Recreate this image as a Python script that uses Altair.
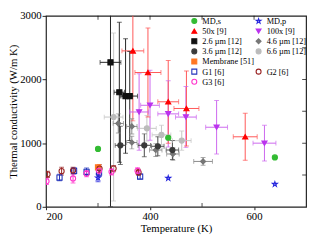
import altair as alt
import pandas as pd

# ---------------- data ----------------
# legend order (column-major, 2 columns x 7 rows; blanks keep the grid)
series_order = ["MD,s", "50x [9]", "2.6 µm [12]", "3.6 µm [12]", "Membrane [51]", "G1 [6]", "G3 [6]",
                "MD,p", "100x [9]", "4.6 µm [12]", "6.6 µm [12]", " ", "G2 [6]", "  "]

mds_T = [300, 435, 640]
mds_k = [910, 1085, 775]
mds_Te = [0, 0, 0]
mds_ke = [0, 0, 0]

mdp_T = [300, 435, 640]
mdp_k = [455, 450, 355]
mdp_Te = [0, 0, 0]
mdp_ke = [60, 0, 0]

x50_T = [367, 396, 435, 470, 583]
x50_k = [2450, 2110, 1650, 1545, 1100]
x50_Te = [21, 25, 20, 24, 23]
x50_ke = [1100, 700, 650, 590, 370]

x100_T = [379, 400, 435, 469, 528, 620]
x100_k = [1490, 1595, 1460, 1410, 1250, 1000]
x100_Te = [18, 18, 20, 20, 21, 22]
x100_ke = [600, 550, 520, 480, 420, 280]

u26_T = [324, 341, 353, 361]
u26_k = [2270, 1800, 1740, 1740]
u26_Te = [20, 10, 10, 15]
u26_ke = [2270, 1100, 900, 700]

u36_T = [343, 389, 415, 443]
u36_k = [966, 966, 951, 892]
u36_Te = [10, 12, 12, 12]
u36_ke = [300, 180, 150, 150]

u46_T = [339, 365, 365, 411, 444, 502]
u46_k = [1310, 1263, 1010, 892, 830, 713]
u46_Te = [10, 10, 10, 12, 12, 18]
u46_ke = [150, 120, 100, 100, 100, 60]

u66_T = [330, 394, 422, 461]
u66_k = [1410, 1233, 1130, 1040]
u66_Te = [18, 18, 18, 18]
u66_ke = [1320, 200, 150, 150]

mem_T = [300]
mem_k = [620]
mem_Te = [0]
mem_ke = [0]

g1_T = [226, 254, 278, 302, 381]
g1_k = [460, 565, 550, 535, 475]
g1_Te = [0, 0, 0, 0, 0]
g1_ke = [50, 50, 60, 60, 40]

g2_T = [203, 230, 252, 303, 330, 378]
g2_k = [510, 560, 570, 600, 600, 540]
g2_Te = [0, 0, 0, 0, 0, 0]
g2_ke = [50, 60, 50, 60, 50, 50]

g3_T = [201, 252, 278, 302, 326, 376]
g3_k = [400, 445, 520, 565, 550, 565]
g3_Te = [0, 0, 0, 0, 0, 0]
g3_ke = [50, 70, 50, 70, 50, 50]

star = "M0,-1L0.2245,-0.309L0.951,-0.309L0.363,0.118L0.588,0.809L0,0.382L-0.588,0.809L-0.363,0.118L-0.951,-0.309L-0.2245,-0.309Z"
# name: (stroke colour, fill colour, error-bar colour, shape)
styles = {
    "MD,s": ("#33bb33", "#33bb33", "#33bb33", "circle"),
    "MD,p": ("#2222dd", "transparent", "#2222dd", star),
    "50x [9]": ("#ff0000", "#ff0000", "#ff5555", "triangle-up"),
    "100x [9]": ("#bb33ee", "#bb33ee", "#cc66ee", "triangle-down"),
    "2.6 µm [12]": ("#111111", "#111111", "#222222", "square"),
    "4.6 µm [12]": ("#777777", "#777777", "#888888", "diamond"),
    "3.6 µm [12]": ("#3a3a3a", "#3a3a3a", "#444444", "circle"),
    "6.6 µm [12]": ("#bbbbbb", "#bbbbbb", "#c4c4c4", "circle"),
    "Membrane [51]": ("#ff7722", "#ff7722", "#ff7722", "square"),
    " ": ("transparent", "transparent", "transparent", "circle"),
    "  ": ("transparent", "transparent", "transparent", "circle"),
    "G1 [6]": ("#2233bb", "transparent", "#2233bb", "square"),
    "G2 [6]": ("#992222", "transparent", "#992222", "circle"),
    "G3 [6]": ("#ff33cc", "transparent", "#ff33cc", "circle"),
}
point_colors = [styles[s][0] for s in series_order]
fill_colors = [styles[s][1] for s in series_order]
shapes = [styles[s][3] for s in series_order]

x_ticks_top = [300, 400, 500, 600]
x_ticks_minor = [300, 500]
y_ticks_right = [500, 1000, 1500, 2000, 2500]

# ---------------- table ----------------
rows = []
def add(name, T, k, Te, ke):
    for a, b, c, d in zip(T, k, Te, ke):
        rows.append(dict(series=name, T=a, k=b, Te=c, ke=d, bc=styles[name][2]))

add("MD,s", mds_T, mds_k, mds_Te, mds_ke)
add("MD,p", mdp_T, mdp_k, mdp_Te, mdp_ke)
add("Membrane [51]", mem_T, mem_k, mem_Te, mem_ke)
add("G1 [6]", g1_T, g1_k, g1_Te, g1_ke)
add("G2 [6]", g2_T, g2_k, g2_Te, g2_ke)
add("G3 [6]", g3_T, g3_k, g3_Te, g3_ke)
add("6.6 µm [12]", u66_T, u66_k, u66_Te, u66_ke)
add("4.6 µm [12]", u46_T, u46_k, u46_Te, u46_ke)
add("3.6 µm [12]", u36_T, u36_k, u36_Te, u36_ke)
add("2.6 µm [12]", u26_T, u26_k, u26_Te, u26_ke)
add("100x [9]", x100_T, x100_k, x100_Te, x100_ke)
add("50x [9]", x50_T, x50_k, x50_Te, x50_ke)
df = pd.DataFrame(rows)
df["order"] = range(len(df))

W, H = 267, 196
FONT = "Liberation Serif"

xs = alt.Scale(domain=[200, 700], nice=False)
ys = alt.Scale(domain=[0, 3000], nice=False)

base = alt.Chart(df).transform_calculate(
    klo="datum.k - datum.ke", khi="datum.k + datum.ke",
    Tlo="datum.T - datum.Te", Thi="datum.T + datum.Te")

bar_color = alt.Color("bc:N", scale=None, legend=None)

xenc = alt.X("T:Q", scale=xs, title="Temperature (K)",
             axis=alt.Axis(values=[200, 400, 600], format="d", tickSize=3, labelPadding=1, titlePadding=1,
                           grid=False, domain=False))
yenc = alt.Y("k:Q", scale=ys, title="Thermal conductivity (W/m K)",
             axis=alt.Axis(values=[0, 1000, 2000, 3000], format="d", tickSize=4, labelPadding=1, titlePadding=1,
                           grid=False, domain=False))

vbar = base.transform_filter("datum.ke > 0").mark_rule(clip=True, strokeWidth=1).encode(
    x=xenc, y=alt.Y("klo:Q", scale=ys), y2="khi:Q", color=bar_color)
hbar = base.transform_filter("datum.Te > 0").mark_rule(clip=True, strokeWidth=1).encode(
    x=alt.X("Tlo:Q", scale=xs), x2="Thi:Q", y=yenc, color=bar_color)
cap_lo = base.transform_filter("datum.ke > 0").mark_tick(clip=True, orient="horizontal", size=5, thickness=1).encode(
    x=alt.X("T:Q", scale=xs), y=alt.Y("klo:Q", scale=ys), color=bar_color)
cap_hi = base.transform_filter("datum.ke > 0").mark_tick(clip=True, orient="horizontal", size=5, thickness=1).encode(
    x=alt.X("T:Q", scale=xs), y=alt.Y("khi:Q", scale=ys), color=bar_color)
cap_l = base.transform_filter("datum.Te > 0").mark_tick(clip=True, orient="vertical", size=5, thickness=1).encode(
    x=alt.X("Tlo:Q", scale=xs), y=alt.Y("k:Q", scale=ys), color=bar_color)
cap_r = base.transform_filter("datum.Te > 0").mark_tick(clip=True, orient="vertical", size=5, thickness=1).encode(
    x=alt.X("Thi:Q", scale=xs), y=alt.Y("k:Q", scale=ys), color=bar_color)

leg = alt.Legend(title=None, orient="none", legendX=148, legendY=1, columns=2,
                 columnPadding=-9, rowPadding=0.4, symbolSize=26, symbolStrokeWidth=1.1,
                 labelFont=FONT, labelFontSize=8.5, labelOffset=4, labelLimit=200, padding=0)

pts = base.mark_point(size=28, strokeWidth=1.1, opacity=1, clip=True).encode(
    x=alt.X("T:Q", scale=xs), y=alt.Y("k:Q", scale=ys),
    shape=alt.Shape("series:N", scale=alt.Scale(domain=series_order, range=shapes), legend=leg),
    fill=alt.Fill("series:N", scale=alt.Scale(domain=series_order, range=fill_colors), legend=leg),
    stroke=alt.Stroke("series:N", scale=alt.Scale(domain=series_order, range=point_colors), legend=leg),
    order="order:Q")

top_t = alt.Chart(pd.DataFrame({"T": x_ticks_top})).mark_tick(orient="vertical", size=8, thickness=1, color="black", clip=True).encode(
    x=alt.X("T:Q", scale=xs), y=alt.value(0))
bot_t = alt.Chart(pd.DataFrame({"T": x_ticks_minor})).mark_tick(orient="vertical", size=8, thickness=1, color="black", clip=True).encode(
    x=alt.X("T:Q", scale=xs), y=alt.value(H))
right_t = alt.Chart(pd.DataFrame({"k": y_ticks_right})).mark_tick(orient="horizontal", size=8, thickness=1, color="black", clip=True).encode(
    y=alt.Y("k:Q", scale=ys), x=alt.value(W))

chart = alt.layer(vbar, hbar, cap_lo, cap_hi, cap_l, cap_r, pts, top_t, bot_t, right_t).properties(
    width=W, height=H,
    autosize=alt.AutoSizeParams(type="none"),
    padding={"left": 39, "top": 5, "right": 3, "bottom": 31},
).configure_view(stroke="#222222", strokeWidth=1.2).configure_axis(
    labelFont=FONT, titleFont=FONT, labelFontSize=11, titleFontSize=11,
    titleFontWeight="normal", labelColor="black", titleColor="black", tickColor="#222222"
)

chart.save("out.html", embed_options={"renderer": "svg", "actions": False})
